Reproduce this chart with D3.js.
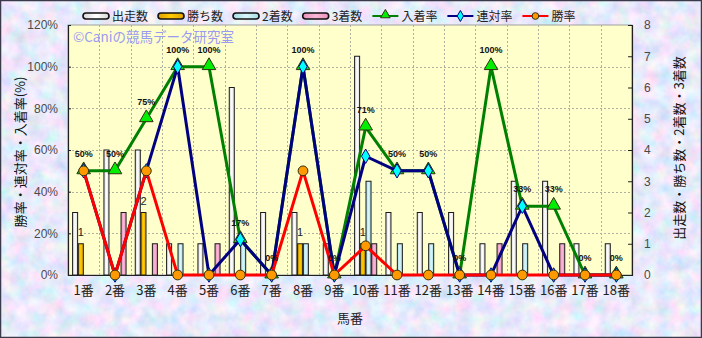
<!DOCTYPE html>
<html>
<head>
<meta charset="utf-8">
<script src="https://d3js.org/d3.v7.min.js"></script>
<style>
  body { margin: 0; padding: 0; }
  svg { display: block; font-family: "Noto Sans CJK JP", sans-serif; }
</style>
</head>
<body>
<div id="chart"></div>
<script>
// data
var categories = ["1番","2番","3番","4番","5番","6番","7番","8番","9番","10番","11番","12番","13番","14番","15番","16番","17番","18番"];
var starts   = [2,4,4,1,1,6,2,2,1,7,2,2,2,1,3,3,1,1];
var wins     = [1,0,2,0,0,0,0,1,0,1,0,0,0,0,0,0,0,0];
var seconds  = [0,0,0,1,0,1,0,1,0,3,1,1,0,0,1,0,0,0];
var thirds   = [0,2,1,0,1,0,0,0,0,1,0,0,0,1,0,1,0,0];
var placeRate    = [50,50,75,100,100,17,0,100,0,71,50,50,0,100,33,33,0,0];
var quinellaRate = [50,0,50,100,0,17,0,100,0,57,50,50,0,0,33,0,0,0];
var winRate      = [50,0,50,0,0,0,0,50,0,14,0,0,0,0,0,0,0,0];
var pctTicks = [0,20,40,60,80,100,120];
var cntTicks = [0,1,2,3,4,5,6,7,8];

var W = 702, H = 338;
var margin = {top: 25, right: 70, bottom: 63, left: 68};
var width = W - margin.left - margin.right,
    height = H - margin.top - margin.bottom;

var svg = d3.select("#chart").append("svg")
  .attr("width", W).attr("height", H);

var defs = svg.append("defs");

// textured background
var f = defs.append("filter").attr("id", "tex")
  .attr("x", 0).attr("y", 0).attr("width", "100%").attr("height", "100%");
f.append("feTurbulence").attr("type", "fractalNoise")
  .attr("baseFrequency", "0.07").attr("numOctaves", 3).attr("seed", 7);
f.append("feColorMatrix").attr("type", "matrix")
  .attr("values", "0.75 0 0 0 0.44  0 0.4 0 0 0.62  0 0 0.3 0 0.81  0 0 0 0 1");

svg.append("rect").attr("width", W).attr("height", H).attr("fill", "#d3d6f1");
svg.append("rect").attr("width", W).attr("height", H).attr("filter", "url(#tex)");
svg.append("rect").attr("x", 0.5).attr("y", 0.5).attr("width", W - 1).attr("height", H - 1)
  .attr("fill", "none").attr("stroke", "#3a3a4a").attr("stroke-width", 1.5);

// gradients for the bars
function grad(id, c1, c2) {
  var g = defs.append("linearGradient").attr("id", id)
    .attr("x1", "0%").attr("x2", "100%").attr("y1", "0%").attr("y2", "0%");
  g.append("stop").attr("offset", "0%").attr("stop-color", c1);
  g.append("stop").attr("offset", "50%").attr("stop-color", c2);
  g.append("stop").attr("offset", "100%").attr("stop-color", c1);
}
grad("gStart", "#d8d8d8", "#ffffff");
grad("gWin", "#e0a000", "#ffcc00");
grad("gSecond", "#a8dce6", "#d8f6fa");
grad("gThird", "#e890b8", "#f8b8d8");

var series = [
  {name: "出走数", values: starts,  fill: "url(#gStart)"},
  {name: "勝ち数", values: wins,    fill: "url(#gWin)"},
  {name: "2着数", values: seconds, fill: "url(#gSecond)"},
  {name: "3着数", values: thirds,  fill: "url(#gThird)"}
];
var lines = [
  {name: "入着率", values: placeRate,    stroke: "#008000", fill: "#00ee00", marker: d3.symbolTriangle},
  {name: "連対率", values: quinellaRate, stroke: "#000080", fill: "#00ffff", marker: d3.symbolDiamond},
  {name: "勝率",   values: winRate,      stroke: "#ff0000", fill: "#ff9900", marker: d3.symbolCircle}
];

var g = svg.append("g").attr("transform", "translate(" + margin.left + "," + margin.top + ")");

// scales
var x0 = d3.scaleBand().domain(categories).range([0, width]).paddingInner(0.25).paddingOuter(0.125);
var xc = d3.scaleBand().domain(categories).range([0, width]);
var x1 = d3.scaleBand().domain(d3.range(series.length)).range([0, x0.bandwidth()]).padding(0.12);
var yL = d3.scaleLinear().domain([0, 120]).range([height, 0]);
var yR = d3.scaleLinear().domain([0, 8]).range([height, 0]);

// plot area
g.append("rect").attr("width", width).attr("height", height)
  .attr("fill", "#ffffcc").attr("stroke", "#a0a0a0");

// gridlines
g.append("g").selectAll("line.h").data(pctTicks.slice(1, -1)).enter().append("line")
  .attr("x1", 0).attr("x2", width)
  .attr("y1", function(d) { return Math.round(yL(d)) + 0.5; })
  .attr("y2", function(d) { return Math.round(yL(d)) + 0.5; })
  .attr("stroke", "#b0b0a0").attr("stroke-dasharray", "2,2");
g.append("g").selectAll("line.v").data(categories.slice(1)).enter().append("line")
  .attr("x1", function(d) { return Math.round(xc(d)) + 0.5; })
  .attr("x2", function(d) { return Math.round(xc(d)) + 0.5; })
  .attr("y1", 0).attr("y2", height)
  .attr("stroke", "#b0b0a0").attr("stroke-dasharray", "2,2");

// bars
var groups = g.append("g").selectAll("g.cat").data(categories).enter().append("g")
  .attr("transform", function(d) { return "translate(" + x0(d) + ",0)"; });
groups.selectAll("rect").data(function(d, i) {
    return series.map(function(s, j) { return {j: j, v: s.values[i], fill: s.fill}; });
  }).enter().append("rect")
  .filter(function(d) { return d.v > 0; })
  .attr("x", function(d) { return x1(d.j); })
  .attr("width", x1.bandwidth())
  .attr("y", function(d) { return yR(d.v); })
  .attr("height", function(d) { return yR(0) - yR(d.v); })
  .attr("fill", function(d) { return d.fill; })
  .attr("stroke", "#1a1a1a").attr("stroke-width", 1);

// win count labels
g.append("g").selectAll("text").data(categories).enter().append("text")
  .filter(function(d, i) { return wins[i] > 0; })
  .attr("x", function(d) { return x0(d) + x1(1) + x1.bandwidth() / 2; })
  .attr("y", function(d) { return yR(wins[categories.indexOf(d)]) - 8; })
  .attr("text-anchor", "middle")
  .attr("font-family", "Liberation Sans, Arial, sans-serif")
  .attr("font-size", "11px").attr("fill", "#222")
  .text(function(d) { return wins[categories.indexOf(d)]; });

// axes
var axL = g.append("g").call(d3.axisLeft(yL).tickValues(pctTicks).tickSize(-3)
  .tickPadding(10).tickFormat(function(d) { return d + "%"; }));
var axR = g.append("g").attr("transform", "translate(" + width + ",0)")
  .call(d3.axisRight(yR).tickValues(cntTicks).tickSize(-4).tickPadding(12));
var axB = g.append("g").attr("transform", "translate(0," + height + ")")
  .call(d3.axisBottom(xc).tickSize(0).tickPadding(11));
[axL, axR].forEach(function(a) {
  a.select(".domain").attr("stroke", "#202020").attr("stroke-width", 1.2);
  a.selectAll(".tick line").attr("stroke", "#202020");
  a.selectAll("text").attr("font-family", "Liberation Sans, Arial, sans-serif")
    .attr("font-size", "12px").attr("fill", "#4a4a4a");
});
axB.select(".domain").attr("stroke", "#202020").attr("stroke-width", 1.2);
axB.selectAll("text").attr("font-family", "Noto Sans CJK JP, sans-serif")
  .attr("font-size", "13px").attr("fill", "#222");

// lines with markers
lines.forEach(function(s) {
  var line = d3.line()
    .x(function(d, i) { return xc(categories[i]) + xc.bandwidth() / 2; })
    .y(function(d) { return yL(d); });
  g.append("path").datum(s.values).attr("d", line)
    .attr("fill", "none").attr("stroke", s.stroke).attr("stroke-width", 3)
    .attr("stroke-linejoin", "round");
  var sym = d3.symbol().type(s.marker).size(s.marker === d3.symbolCircle ? 75 : (s.marker === d3.symbolTriangle ? 80 : 60));
  g.append("g").selectAll("path").data(s.values).enter().append("path")
    .attr("d", sym)
    .attr("transform", function(d, i) {
      var dy = s.marker === d3.symbolTriangle ? -1 : 0;
      return "translate(" + (xc(categories[i]) + xc.bandwidth() / 2) + "," + (yL(d) + dy) + ")";
    })
    .attr("fill", s.fill).attr("stroke", s.marker === d3.symbolDiamond ? "#000080" : "#303010")
    .attr("stroke-width", 1);
});

// place rate labels
g.append("g").selectAll("text").data(placeRate).enter().append("text")
  .attr("x", function(d, i) { return xc(categories[i]) + xc.bandwidth() / 2; })
  .attr("y", function(d) { return yL(d) - 14; })
  .attr("text-anchor", "middle")
  .attr("font-family", "Liberation Sans, Arial, sans-serif")
  .attr("font-weight", "bold").attr("font-size", "9px").attr("fill", "#111")
  .text(function(d) { return d + "%"; });

// watermark
svg.append("text").attr("x", 73).attr("y", 42)
  .attr("font-size", "13.5px").attr("fill", "#9a9af0")
  .text("©Caniの競馬データ研究室");

// axis titles
svg.append("text")
  .attr("transform", "translate(25," + (margin.top + height / 2 + 2) + ") rotate(-90)")
  .attr("text-anchor", "middle").attr("font-size", "13px").attr("fill", "#111")
  .text("勝率・連対率・入着率(%)");
svg.append("text")
  .attr("transform", "translate(684," + (margin.top + height / 2 - 2) + ") rotate(-90)")
  .attr("text-anchor", "middle").attr("font-size", "13px").attr("fill", "#111")
  .text("出走数・勝ち数・2着数・3着数");
svg.append("text").attr("x", margin.left + width / 2).attr("y", 323)
  .attr("text-anchor", "middle").attr("font-size", "13px").attr("fill", "#222")
  .text("馬番");

// legend
var legend = svg.append("g").attr("transform", "translate(83,16)");
var lx = 0;
series.forEach(function(s) {
  var it = legend.append("g").attr("transform", "translate(" + lx + ",0)");
  it.append("rect").attr("x", 0).attr("y", -3).attr("width", 26).attr("height", 6)
    .attr("rx", 3).attr("fill", s.fill).attr("stroke", "#111").attr("stroke-width", 1.6);
  var t = it.append("text").attr("x", 29).attr("y", 5).attr("font-size", "12px").attr("fill", "#222").text(s.name);
  lx += 29 + t.node().getComputedTextLength() + 10;
});
lines.forEach(function(s) {
  var it = legend.append("g").attr("transform", "translate(" + lx + ",0)");
  it.append("line").attr("x1", 0).attr("x2", 26).attr("stroke", s.stroke).attr("stroke-width", 2);
  it.append("path").attr("d", d3.symbol().type(s.marker).size(s.marker === d3.symbolTriangle ? 40 : 35))
    .attr("transform", "translate(13," + (s.marker === d3.symbolTriangle ? -1 : 0) + ")")
    .attr("fill", s.fill).attr("stroke", s.marker === d3.symbolDiamond ? "#000080" : "#303010").attr("stroke-width", 1);
  var t = it.append("text").attr("x", 29).attr("y", 5).attr("font-size", "12px").attr("fill", "#222").text(s.name);
  lx += 29 + t.node().getComputedTextLength() + 10;
});
</script>
</body>
</html>
